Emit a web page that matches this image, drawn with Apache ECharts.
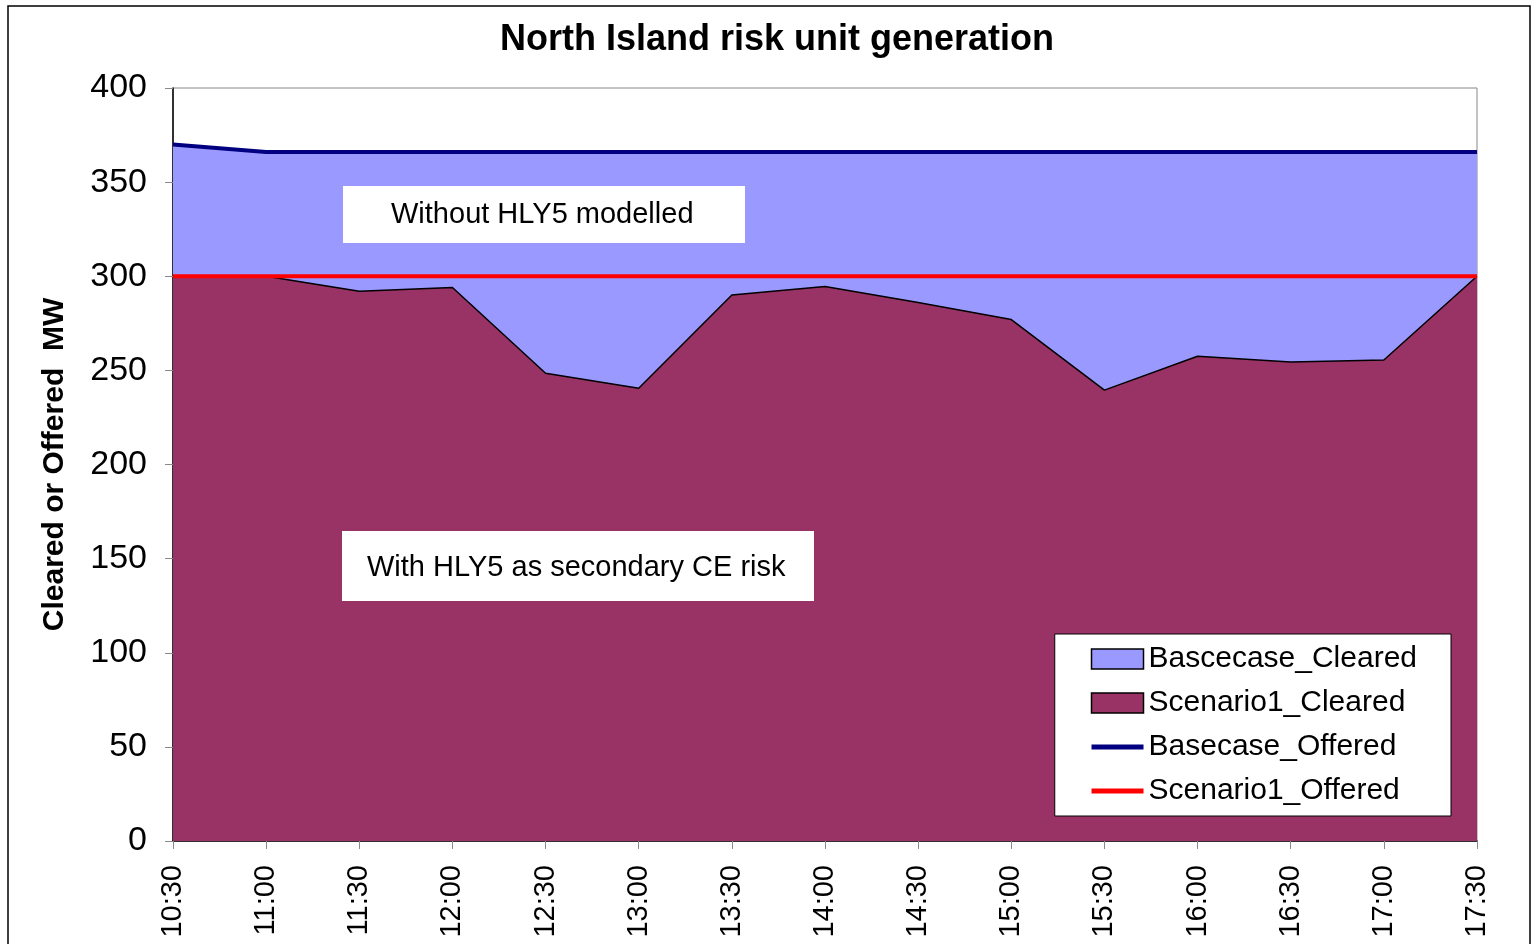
<!DOCTYPE html>
<html>
<head>
<meta charset="utf-8">
<script src="https://cdn.jsdelivr.net/npm/echarts@6/dist/echarts.min.js"></script>
<style>
  html, body { margin: 0; padding: 0; background: #fff; }
  #chart { width: 1533px; height: 944px; }
</style>
</head>
<body>
<div id="chart"></div>
<script>
// data
const times = ["10:30", "11:00", "11:30", "12:00", "12:30", "13:00", "13:30", "14:00",
  "14:30", "15:00", "15:30", "16:00", "16:30", "17:00", "17:30"];
const basecaseCleared = [370, 366, 366, 366, 366, 366, 366, 366, 366, 366, 366, 366, 366, 366, 366];
const scenario1Cleared = [300, 300, 292, 294, 248.5, 240.5, 290, 294.5, 286, 277, 239.5, 257.5, 254.5, 255.5, 300];
const basecaseOffered = [370, 366, 366, 366, 366, 366, 366, 366, 366, 366, 366, 366, 366, 366, 366];
const scenario1Offered = [300, 300, 300, 300, 300, 300, 300, 300, 300, 300, 300, 300, 300, 300, 300];

const font = "Liberation Sans, Arial, sans-serif";
const lineIcon = "path://M0,0 L50,0 L50,5 L0,5 Z";

const chart = echarts.init(document.getElementById("chart"));
chart.setOption({
  animation: false,
  textStyle: { fontFamily: font, color: "#000" },
  title: {
    text: "North Island risk unit generation",
    left: 495,
    top: 17,
    textStyle: { fontSize: 36, fontWeight: "bold", color: "#000", fontFamily: font },
  },
  grid: {
    left: 173,
    right: 56,
    top: 88,
    bottom: 103,
    show: true,
    borderColor: "#888",
    borderWidth: 1,
    backgroundColor: "transparent",
  },
  legend: {
    orient: "vertical",
    right: 82,
    top: 634,
    backgroundColor: "#fff",
    borderColor: "#000",
    borderWidth: 1,
    padding: [10, 34, 10, 36],
    itemGap: 14,
    itemWidth: 52,
    itemHeight: 20,
    textStyle: { fontSize: 30, color: "#000", fontFamily: font },
    data: [
      { name: "Bascecase_Cleared", icon: "rect", itemStyle: { color: "#9999ff", borderColor: "#000", borderWidth: 1.5 } },
      { name: "Scenario1_Cleared", icon: "rect", itemStyle: { color: "#993366", borderColor: "#000", borderWidth: 1.5 } },
      { name: "Basecase_Offered", icon: lineIcon },
      { name: "Scenario1_Offered", icon: lineIcon },
    ],
  },
  xAxis: {
    type: "category",
    data: times,
    boundaryGap: false,
    axisLine: { lineStyle: { color: "#000", width: 1.5 } },
    axisTick: { show: true, inside: false, length: 8, lineStyle: { color: "#888" } },
    axisLabel: { rotate: 90, fontSize: 29, color: "#000", margin: 24, fontFamily: font },
    splitLine: { show: false },
  },
  yAxis: {
    type: "value",
    min: 0,
    max: 400,
    interval: 50,
    name: "Cleared or Offered  MW",
    nameLocation: "middle",
    nameGap: 103,
    nameTextStyle: { fontSize: 30, fontWeight: "bold", color: "#000", fontFamily: font },
    axisLine: { show: true, lineStyle: { color: "#000", width: 1.5 } },
    axisTick: { show: true, inside: false, length: 8, lineStyle: { color: "#888" } },
    axisLabel: { fontSize: 34, color: "#000", margin: 26, fontFamily: font },
    splitLine: { show: false },
  },
  series: [
    {
      name: "Bascecase_Cleared",
      type: "line",
      data: basecaseCleared,
      symbol: "none",
      lineStyle: { width: 0, color: "#9999ff" },
      itemStyle: { color: "#9999ff" },
      areaStyle: { color: "#9999ff", opacity: 1 },
      z: 1,
    },
    {
      name: "Scenario1_Cleared",
      type: "line",
      data: scenario1Cleared,
      symbol: "none",
      lineStyle: { width: 1.5, color: "#000" },
      itemStyle: { color: "#993366" },
      areaStyle: { color: "#993366", opacity: 1 },
      z: 2,
    },
    {
      name: "Basecase_Offered",
      type: "line",
      data: basecaseOffered,
      symbol: "none",
      lineStyle: { width: 4, color: "#000080" },
      itemStyle: { color: "#000080" },
      z: 3,
    },
    {
      name: "Scenario1_Offered",
      type: "line",
      data: scenario1Offered,
      symbol: "none",
      lineStyle: { width: 4, color: "#ff0000" },
      itemStyle: { color: "#ff0000" },
      z: 4,
    },
  ],
  graphic: {
    elements: [
      {
        type: "rect",
        shape: { x: 8, y: 6, width: 1522, height: 960 },
        style: { fill: "none", stroke: "#000", lineWidth: 1.5 },
        silent: true,
        z: 0,
      },
      // annotation boxes
      {
        type: "rect",
        shape: { x: 343, y: 186, width: 402, height: 57 },
        style: { fill: "#fff" },
        z: 100,
      },
      {
        type: "text",
        x: 391,
        y: 215,
        style: { text: "Without HLY5 modelled", font: "29px " + font, fill: "#000", verticalAlign: "middle" },
        z: 101,
      },
      {
        type: "rect",
        shape: { x: 342, y: 531, width: 472, height: 70 },
        style: { fill: "#fff" },
        z: 100,
      },
      {
        type: "text",
        x: 367,
        y: 568,
        style: { text: "With HLY5 as secondary CE risk", font: "29px " + font, fill: "#000", verticalAlign: "middle" },
        z: 101,
      },
    ],
  },
});
</script>
</body>
</html>
